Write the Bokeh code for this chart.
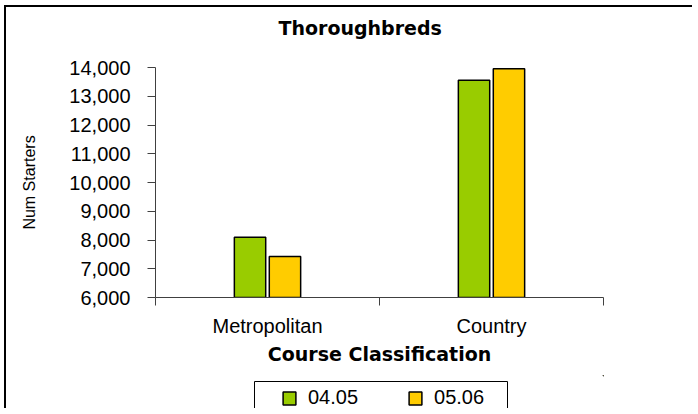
from bokeh.plotting import figure
from bokeh.layouts import column
from bokeh.models import (Range1d, FixedTicker, NumeralTickFormatter, Legend, LegendItem,
                          ColumnDataSource, CustomJSTickFormatter, BoxAnnotation)
from bokeh.core.properties import value
from bokeh.embed import file_html
from bokeh.resources import INLINE

# ---- data ----
categories = ["Metropolitan", "Country"]
series_names = ["04.05", "05.06"]
values_0405 = [8100, 13560]
values_0506 = [7430, 13960]
y_ticks = [6000, 7000, 8000, 9000, 10000, 11000, 12000, 13000, 14000]
colors = ["#99CC00", "#FFCC00"]

W = 686
H1, H2 = 368, 33
OX, OY = 6, 7  # page offset of the canvases (margin + css border)
p = figure(width=W, height=H1, output_backend="svg", toolbar_location=None,
           x_range=Range1d(0, len(categories)), y_range=Range1d(y_ticks[0], y_ticks[-1]),
           min_border_left=155 - OX, min_border_right=W - (603 - OX), min_border_top=67 - OY,
           min_border_bottom=H1 - (297 - OY))
p.xgrid.visible = False
p.ygrid.visible = False
p.outline_line_color = None
p.background_fill_color = "white"
p.border_fill_color = "white"

centers = [i + 0.5 for i in range(len(categories))]
bw = 0.14
off = 0.078
bar_style = dict(line_color="black", line_width=1.5)
src1 = ColumnDataSource(dict(x=[c - off for c in centers], top=values_0405))
src2 = ColumnDataSource(dict(x=[c + off for c in centers], top=values_0506))
r1 = p.vbar(x="x", top="top", bottom=y_ticks[0], width=bw, source=src1,
            fill_color=colors[0], **bar_style)
r2 = p.vbar(x="x", top="top", bottom=y_ticks[0], width=bw, source=src2,
            fill_color=colors[1], **bar_style)

axis_col = "#404040"
# x axis
xa = p.xaxis[0]
xa.ticker = FixedTicker(ticks=centers, minor_ticks=list(range(len(categories) + 1)))
xa.formatter = CustomJSTickFormatter(args=dict(labels=categories),
                                     code="return labels[Math.floor(tick)] || '';")
xa.axis_line_color = axis_col
xa.major_tick_line_color = None
xa.major_tick_out = 0
xa.major_tick_in = 0
xa.minor_tick_line_color = axis_col
xa.minor_tick_out = 8
xa.minor_tick_in = 0
xa.major_label_standoff = 9
xa.major_label_text_font = "Liberation Sans"
xa.major_label_text_font_size = "20px"
xa.major_label_text_color = "black"
xa.axis_label = "Course Classification"
xa.axis_label_text_font = "DejaVu Sans"
xa.axis_label_text_font_style = "bold"
xa.axis_label_text_font_size = "19px"
xa.axis_label_text_color = "black"
xa.axis_label_standoff = 3

# y axis
ya = p.yaxis[0]
ya.ticker = FixedTicker(ticks=y_ticks)
ya.formatter = NumeralTickFormatter(format="0,0")
ya.axis_line_color = axis_col
ya.major_tick_line_color = axis_col
ya.major_tick_out = 8
ya.major_tick_in = 0
ya.minor_tick_line_color = None
ya.major_label_standoff = 17
ya.major_label_text_font = "Liberation Sans"
ya.major_label_text_font_size = "20px"
ya.major_label_text_color = "black"
ya.axis_label = "Num Starters"
ya.axis_label_text_font = "Liberation Sans"
ya.axis_label_text_font_style = "normal"
ya.axis_label_text_font_size = "16px"
ya.axis_label_text_color = "black"
ya.axis_label_standoff = 28

# title
p.title.text = "Thoroughbreds"
p.title.text_font = "DejaVu Sans"
p.title.text_font_style = "bold"
p.title.text_font_size = "19px"
p.title.text_color = "black"
p.title.align = "left"
p.title.offset = 123
p.title.standoff = 10
p.title.padding = dict(left=0, right=0, top=0, bottom=24)

# ---- legend strip (second figure; its frame lines up with the main frame) ----
# its ranges are far from the data, so its bars stay out of view and only feed the legend
p2 = figure(width=W, height=H2, output_backend="svg", toolbar_location=None,
            x_range=Range1d(-20, -19), y_range=Range1d(-20, -19),
            x_axis_type=None, y_axis_type=None, min_border=0)
p2.outline_line_color = None
p2.xgrid.visible = False
p2.ygrid.visible = False
p2.background_fill_color = "white"
p2.border_fill_color = "white"

l1 = p2.vbar(x="x", top="top", bottom=y_ticks[0], width=bw, source=src1,
             fill_color=colors[0], **bar_style)
l2 = p2.vbar(x="x", top="top", bottom=y_ticks[0], width=bw, source=src2,
             fill_color=colors[1], **bar_style)

FL = 155  # page x of the frame's left edge
box = BoxAnnotation(left=254 - FL, right=507 - FL, top=H2 - 6, bottom=-10,
                    left_units="screen", right_units="screen",
                    top_units="screen", bottom_units="screen",
                    fill_color=None, line_color="black", line_width=1, line_alpha=1)
p2.add_layout(box)

legend = Legend(items=[LegendItem(label=value(series_names[0]), renderers=[l1]),
                       LegendItem(label=value(series_names[1]), renderers=[l2])],
                orientation="horizontal", location=(281 - FL, -1), padding=0, spacing=49,
                glyph_width=16, glyph_height=16, label_standoff=11,
                label_text_font="Liberation Sans", label_text_font_size="20px",
                label_text_color="black", border_line_color=None,
                background_fill_alpha=0, margin=0)
p2.add_layout(legend, "center")

layout = column(p, p2, spacing=0, margin=(5, 0, 0, 4),
                styles={"border-left": "2px solid black", "border-top": "2px solid black"})
open("out.html", "w").write(file_html(layout, INLINE))
